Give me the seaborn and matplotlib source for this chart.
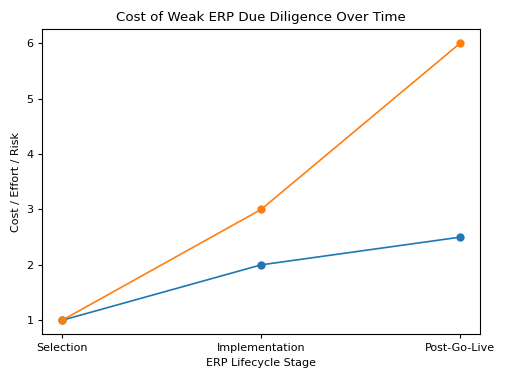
import pandas as pd
import matplotlib.pyplot as plt
import seaborn as sns

# dados
stages = ['Selection', 'Implementation', 'Post-Go-Live']
strong_dd = [1, 2, 2.5]
weak_dd = [1, 3, 6]

df = pd.DataFrame({
    'stage': stages * 2,
    'value': strong_dd + weak_dd,
    'series': ['Strong'] * 3 + ['Weak'] * 3,
})

fig, ax = plt.subplots(figsize=(5.08, 3.81), dpi=100)
fig.subplots_adjust(left=0.083, right=0.945, top=0.923, bottom=0.123)

sns.lineplot(data=df, x='stage', y='value', hue='series', marker='o',
             markersize=6, markeredgewidth=0, linewidth=1.2,
             palette=['#1f77b4', '#ff7f0e'],
             legend=False, ax=ax, sort=False)

ax.set_title('Cost of Weak ERP Due Diligence Over Time', fontsize=9.6)
ax.set_xlabel('ERP Lifecycle Stage', fontsize=8)
ax.set_ylabel('Cost / Effort / Risk', fontsize=8)
ax.tick_params(labelsize=8, width=0.8, length=2.8)
for s in ax.spines.values():
    s.set_linewidth(0.8)

fig.savefig('out.png', dpi=100)
